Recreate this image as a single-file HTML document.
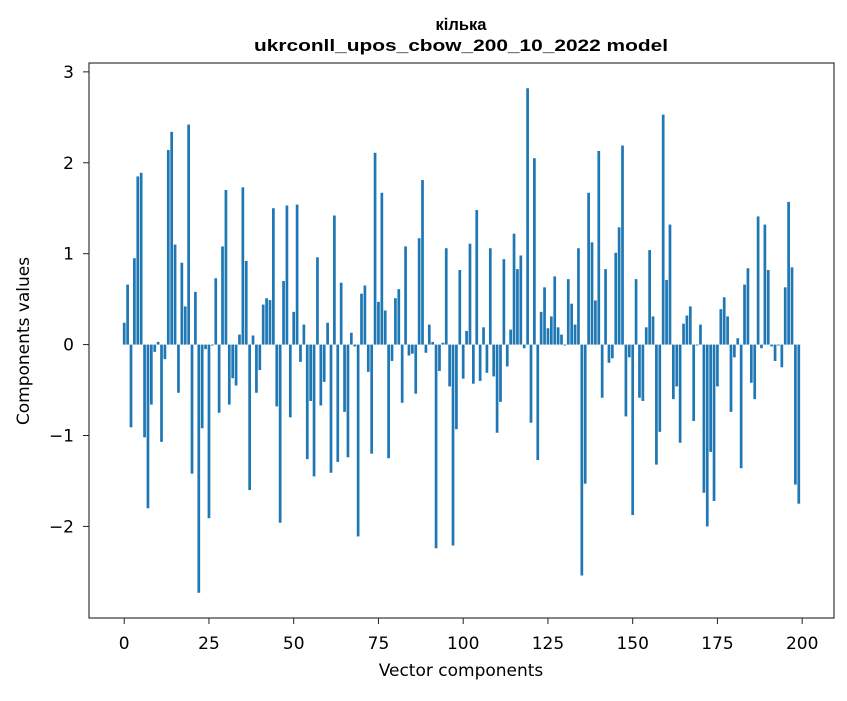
<!DOCTYPE html>
<html><head><meta charset="utf-8"><style>
body{margin:0;background:#fff}
svg text{font-family:"DejaVu Sans","Liberation Sans",sans-serif;fill:#000}
svg text.ttl{font-family:"Liberation Sans","DejaVu Sans",sans-serif}
</style></head><body>
<svg id="chart" width="847" height="696" viewBox="0 0 847 696" xmlns="http://www.w3.org/2000/svg">
<rect x="0" y="0" width="847" height="696" fill="#fff"/>
<text class="ttl" x="461" y="30" text-anchor="middle" font-size="16.5" font-weight="bold">кілька</text>
<text class="ttl" x="461" y="51" text-anchor="middle" font-size="16.5" font-weight="bold" textLength="414" lengthAdjust="spacingAndGlyphs">ukrconll_upos_cbow_200_10_2022 model</text>
<g id="bars"></g>
<g id="axes"></g>
<text x="461" y="676" text-anchor="middle" font-size="17">Vector components</text>
<text transform="translate(29,341) rotate(-90)" text-anchor="middle" font-size="17">Components values</text>
</svg>
<script>
const values = [0.24,0.66,-0.91,0.95,1.85,1.89,-1.02,-1.8,-0.66,-0.08,0.03,-1.07,-0.16,2.14,2.34,1.10,-0.53,0.90,0.42,2.42,-1.42,0.58,-2.73,-0.92,-0.05,-1.91,-0.01,0.73,-0.75,1.08,1.70,-0.66,-0.37,-0.45,0.11,1.73,0.92,-1.6,0.10,-0.53,-0.28,0.44,0.51,0.49,1.50,-0.68,-1.96,0.70,1.53,-0.80,
0.36,1.54,-0.19,0.22,-1.26,-0.62,-1.45,0.96,-0.67,-0.41,0.24,-1.41,1.42,-1.29,0.68,-0.74,-1.24,0.13,-0.02,-2.11,0.56,0.65,-0.30,-1.20,2.11,0.47,1.67,0.375,-1.25,-0.18,0.51,0.61,-0.64,1.08,-0.12,-0.10,-0.54,1.17,1.81,-0.09,0.22,0.03,-2.24,-0.29,0.02,1.06,-0.46,-2.21,-0.93,0.82,
-0.375,0.15,1.11,-0.43,1.48,-0.40,0.19,-0.31,1.06,-0.35,-0.97,-0.63,0.94,-0.24,0.165,1.22,0.83,0.98,-0.04,2.82,-0.86,2.05,-1.27,0.36,0.63,0.18,0.31,0.75,0.19,0.11,-0.01,0.72,0.45,0.22,1.06,-2.54,-1.53,1.67,1.125,0.485,2.13,-0.585,0.83,-0.20,-0.15,1.01,1.29,2.19,-0.79,-0.14,
-1.875,0.72,-0.585,-0.62,0.19,1.04,0.31,-1.32,-0.96,2.53,0.71,1.32,-0.60,-0.46,-1.08,0.23,0.32,0.42,-0.84,-0.01,0.22,-1.63,-2.0,-1.18,-1.72,-0.46,0.39,0.52,0.31,-0.74,-0.14,0.07,-1.36,0.66,0.84,-0.42,-0.60,1.41,-0.04,1.32,0.82,-0.02,-0.18,-0.01,-0.25,0.63,1.57,0.85,-1.54,-1.75];
const xTicks = [0,25,50,75,100,125,150,175,200];
const yTicks = [-2,-1,0,1,2,3];
const yTickLabels = ["\u22122","\u22121","0","1","2","3"];

const L=89,R=834,T=63,B=618;
const n=values.length;
const xmin=-0.4-0.05*(n-1+0.8), xmax=(n-1)+0.4+0.05*(n-1+0.8);
const dmin=Math.min(0,...values), dmax=Math.max(0,...values);
const ymin=dmin-0.05*(dmax-dmin), ymax=dmax+0.05*(dmax-dmin);
const xs=v=>L+(v-xmin)/(xmax-xmin)*(R-L);
const ys=v=>B-(v-ymin)/(ymax-ymin)*(B-T);
const NS="http://www.w3.org/2000/svg";
const bars=document.getElementById('bars');
values.forEach((v,i)=>{
  const r=document.createElementNS(NS,'rect');
  const x0=xs(i-0.4), x1=xs(i+0.4);
  const y0=ys(Math.max(0,v)), y1=ys(Math.min(0,v));
  r.setAttribute('x',x0);r.setAttribute('width',x1-x0);
  r.setAttribute('y',y0);r.setAttribute('height',Math.max(0.3,y1-y0));
  r.setAttribute('fill','#1f77b4');
  
  
  bars.appendChild(r);
});
const axes=document.getElementById('axes');
const frame=document.createElementNS(NS,'rect');
frame.setAttribute('x',L);frame.setAttribute('y',T);frame.setAttribute('width',R-L);frame.setAttribute('height',B-T);
frame.setAttribute('fill','none');frame.setAttribute('stroke','#222');frame.setAttribute('stroke-width','1.1');


axes.appendChild(frame);
xTicks.forEach(t=>{
  const x=xs(t);
  const l=document.createElementNS(NS,'line');
  l.setAttribute('x1',x);l.setAttribute('x2',x);l.setAttribute('y1',B);l.setAttribute('y2',B+6);l.setAttribute('stroke','#222');
  
  
  axes.appendChild(l);
  const tx=document.createElementNS(NS,'text');
  tx.setAttribute('x',x);tx.setAttribute('y',B+31);tx.setAttribute('text-anchor','middle');tx.setAttribute('font-size','17');
  tx.textContent=t;
  
  
  axes.appendChild(tx);
});
yTicks.forEach((t,k)=>{
  const y=ys(t);
  const l=document.createElementNS(NS,'line');
  l.setAttribute('x1',L-6);l.setAttribute('x2',L);l.setAttribute('y1',y);l.setAttribute('y2',y);l.setAttribute('stroke','#222');
  
  
  axes.appendChild(l);
  const tx=document.createElementNS(NS,'text');
  tx.setAttribute('x',L-15);tx.setAttribute('y',y+6);tx.setAttribute('text-anchor','end');tx.setAttribute('font-size','17');
  tx.textContent=yTickLabels[k];
  
  
  axes.appendChild(tx);
});
</script>
</body></html>
